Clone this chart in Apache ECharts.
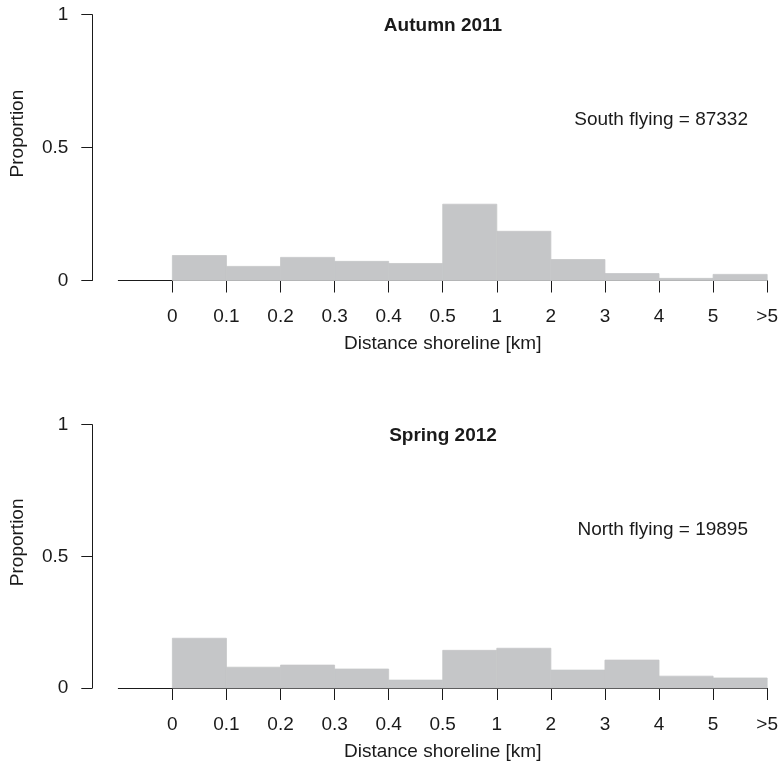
<!DOCTYPE html>
<html>
<head>
<meta charset="utf-8">
<script src="https://cdn.jsdelivr.net/npm/echarts@6/dist/echarts.min.js"></script>
<style>
html,body{margin:0;padding:0;background:#fff;}
#chart{width:781px;height:762px;}
</style>
</head>
<body>
<div id="chart"></div>
<script>
// ---- data ----
const xTickLabels = ['0', '0.1', '0.2', '0.3', '0.4', '0.5', '1', '2', '3', '4', '5', '>5'];
const binIndex = [0, 1, 2, 3, 4, 5, 6, 7, 8, 9, 10];
const autumnValues = [0.094, 0.053, 0.087, 0.072, 0.064, 0.287, 0.185, 0.079, 0.026, 0.008, 0.023];
const springValues = [0.189, 0.079, 0.087, 0.072, 0.030, 0.143, 0.151, 0.068, 0.106, 0.045, 0.038];
const panelTitles = ['Autumn 2011', 'Spring 2012'];
const panelNotes = ['South flying = 87332', 'North flying = 19895'];
const xAxisTitle = 'Distance shoreline [km]';
const yAxisTitle = 'Proportion';

const FONT = "'Liberation Sans', Arial, Helvetica, sans-serif";
const INK = '#1a1a1a';
const BAR = '#c5c6c8';
const tickPositions = xTickLabels.map((_, i) => i);

function pairs(vals) { return binIndex.map((b, i) => [b, vals[i]]); }

function renderBin(params, api) {
  const i = api.value(0), v = api.value(1);
  const p0 = api.coord([i, v]);
  const p1 = api.coord([i + 1, 0]);
  return {
    type: 'rect',
    shape: { x: p0[0], y: p0[1], width: p1[0] - p0[0], height: p1[1] - p0[1] },
    style: { fill: BAR, stroke: BAR, lineWidth: 0.8 }
  };
}

const grids = [
  { left: 118.3, right: 12, top: 14.7, height: 265.8 },
  { left: 118.3, right: 12, top: 424.7, height: 265.3 }
];

function xAxisFor(idx) {
  return {
    type: 'value', gridIndex: idx, min: -1, max: 11, interval: 1,
    splitLine: { show: false },
    axisLine: { show: true, onZero: false, lineStyle: { color: INK, width: 1 } },
    axisTick: { show: true, length: 12, customValues: tickPositions, lineStyle: { color: INK, width: 1 } },
    axisLabel: {
      show: true, margin: 27, customValues: tickPositions,
      formatter: v => xTickLabels[Math.round(v)] ?? '',
      color: INK, fontSize: 19, fontFamily: FONT
    },
    name: xAxisTitle, nameLocation: 'middle', nameGap: 54,
    nameTextStyle: { color: INK, fontSize: 19, fontFamily: FONT }
  };
}

function yAxisFor(idx) {
  return {
    type: 'value', gridIndex: idx, min: 0, max: 1, interval: 0.5, offset: 26,
    splitLine: { show: false },
    axisLine: { show: true, onZero: false, lineStyle: { color: INK, width: 1 } },
    axisTick: { show: true, length: 11, lineStyle: { color: INK, width: 1 } },
    axisLabel: { margin: 24, color: INK, fontSize: 19, fontFamily: FONT, formatter: v => String(v) },
    name: yAxisTitle, nameLocation: 'middle', nameGap: 65, nameRotate: 90,
    nameTextStyle: { color: INK, fontSize: 19, fontFamily: FONT, padding: [0, 0, 0, 28] }
  };
}

const chart = echarts.init(document.getElementById('chart'), null, { renderer: 'canvas' });
chart.setOption({
  backgroundColor: '#fff',
  animation: false,
  grid: grids,
  xAxis: [xAxisFor(0), xAxisFor(1)],
  yAxis: [yAxisFor(0), yAxisFor(1)],
  series: [
    { type: 'custom', xAxisIndex: 0, yAxisIndex: 0, renderItem: renderBin, data: pairs(autumnValues), z: 1 },
    { type: 'custom', xAxisIndex: 1, yAxisIndex: 1, renderItem: renderBin, data: pairs(springValues), z: 1 }
  ],
  graphic: [
    { type: 'text', x: 443, y: 26, style: { text: panelTitles[0], fill: INK, font: 'bold 19px ' + FONT, textAlign: 'center', textVerticalAlign: 'middle' } },
    { type: 'text', x: 748, y: 119.5, style: { text: panelNotes[0], fill: INK, font: '19px ' + FONT, textAlign: 'right', textVerticalAlign: 'middle' } },
    { type: 'text', x: 443, y: 435.5, style: { text: panelTitles[1], fill: INK, font: 'bold 19px ' + FONT, textAlign: 'center', textVerticalAlign: 'middle' } },
    { type: 'text', x: 748, y: 529.5, style: { text: panelNotes[1], fill: INK, font: '19px ' + FONT, textAlign: 'right', textVerticalAlign: 'middle' } }
  ]
});
</script>
</body>
</html>
